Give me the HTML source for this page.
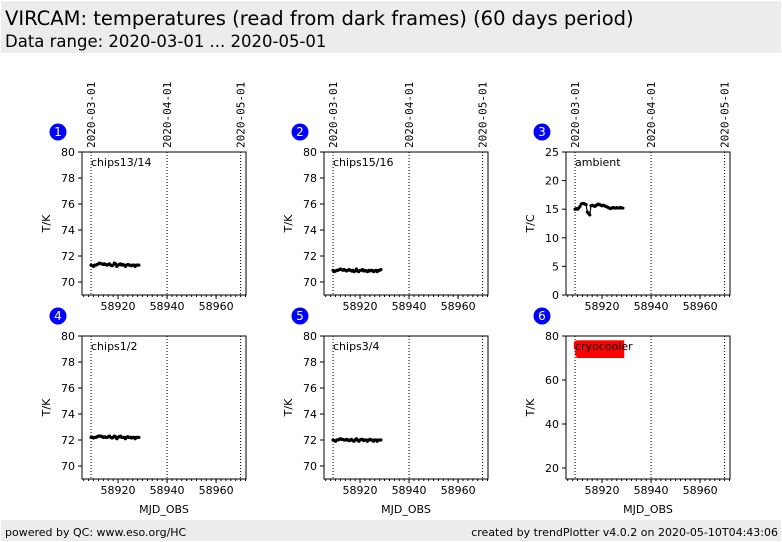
<!DOCTYPE html>
<html><head><meta charset="utf-8">
<style>
body{margin:0;width:782px;height:542px;background:#fff;font-family:"DejaVu Sans","Liberation Sans",sans-serif;overflow:hidden;position:relative}
.hdr{position:absolute;left:1px;top:1px;width:780px;height:52px;background:#ececec}
.t1{position:absolute;left:4px;top:6px;font-size:19.5px;color:#000}
.t2{position:absolute;left:4px;top:31px;font-size:16.5px;color:#000}
.ftr{position:absolute;left:1px;top:520px;width:780px;height:21px;background:#ececec;font-size:11px}
.fl{position:absolute;left:4px;top:6px}.fr{position:absolute;right:3px;top:6px}
svg{position:absolute;left:0;top:0;font-family:"DejaVu Sans","Liberation Sans",sans-serif}
</style></head><body>
<div class="hdr">
<div class="t1">VIRCAM: temperatures (read from dark frames) (60 days period)</div>
<div class="t2">Data range: 2020-03-01 ... 2020-05-01</div>
</div>
<svg id="c" width="782" height="542"></svg>
<div class="ftr">
<span class="fl">powered by QC: www.eso.org/HC</span>
<span class="fr">created by trendPlotter v4.0.2 on 2020-05-10T04:43:06</span>
</div>
<script>
const mjd=[58909,58909.5,58910,58910.5,58911,58911.5,58912,58912.5,58913,58913.5,58914,58914.5,58915,58915.5,58916,58916.5,58917,58917.5,58918,58918.5,58919,58919.5,58920,58920.5,58921,58921.5,58922,58922.5,58923,58923.5,58924,58924.5,58925,58925.5,58926,58926.5,58927,58927.5,58928,58928.5];
const chips1314=[71.3,71.25,71.2,71.3,71.3,71.35,71.4,71.45,71.4,71.4,71.35,71.4,71.35,71.3,71.35,71.4,71.3,71.25,71.3,71.45,71.4,71.2,71.3,71.35,71.4,71.3,71.35,71.3,71.2,71.3,71.35,71.3,71.3,71.25,71.3,71.3,71.2,71.3,71.3,71.3];
const chips1516=[70.9,70.8,70.85,70.9,70.9,70.95,71.0,70.95,70.9,70.95,70.9,70.85,70.9,70.95,70.9,70.85,70.9,70.8,70.85,71.0,70.85,70.8,70.9,70.9,70.95,70.85,70.9,70.85,70.8,70.9,70.85,70.9,70.9,70.8,70.85,70.9,70.8,70.9,70.9,70.95];
const ambient=[15.0,15.1,15.0,15.2,15.5,15.9,16.0,16.0,15.9,15.8,14.5,14.3,14.0,15.6,15.7,15.6,15.5,15.6,15.8,15.9,15.8,15.7,15.6,15.7,15.6,15.5,15.4,15.3,15.2,15.1,15.2,15.3,15.2,15.2,15.3,15.2,15.2,15.3,15.2,15.2];
const chips12=[72.2,72.2,72.15,72.2,72.2,72.25,72.3,72.3,72.3,72.25,72.2,72.25,72.2,72.2,72.25,72.3,72.2,72.15,72.2,72.3,72.25,72.1,72.2,72.25,72.3,72.2,72.2,72.2,72.1,72.2,72.25,72.2,72.2,72.15,72.2,72.2,72.1,72.2,72.2,72.2];
const chips34=[72.0,71.95,71.9,72.0,72.0,72.05,72.1,72.05,72.05,72.0,72.0,72.05,72.0,71.95,72.0,72.05,71.95,71.9,72.0,72.1,72.0,71.9,72.0,72.05,72.05,71.95,72.0,72.0,71.9,72.0,72.05,72.0,72.0,71.9,72.0,72.0,71.9,72.0,72.0,72.0];
const cryoHigh=[77.5,77.8,78,78,78,78,78,78,78,78,78,78,78,78,78,78,78,78,78,78,78,78,78,78,78,78,78,78,78,78,78,78,78,78,78,78,78,78,78,78];
const cryoLow=[74,71,70,70,70,70,70,70,70,70,70,70,70,70,70,70,70,70,70,70,70,70,70,70,70,70,70,70,70,70,70,70,70,70,70,70,70,70,70,70];
const xTicks=[58920,58940,58960];
const dateLbl=["2020-03-01","2020-04-01","2020-05-01"];
const dateMjd=[58909,58940,58970];
const panels=[
 {n:1,x:82,y:152,lab:"chips13/14",yl:"T/K",lo:69,hi:80,yt:[70,72,74,76,78,80],d:chips1314,top:true},
 {n:2,x:324,y:152,lab:"chips15/16",yl:"T/K",lo:69,hi:80,yt:[70,72,74,76,78,80],d:chips1516,top:true},
 {n:3,x:566,y:152,lab:"ambient",yl:"T/C",lo:0,hi:25,yt:[0,5,10,15,20,25],d:ambient,top:true},
 {n:4,x:82,y:336,lab:"chips1/2",yl:"T/K",lo:69,hi:80,yt:[70,72,74,76,78,80],d:chips12},
 {n:5,x:324,y:336,lab:"chips3/4",yl:"T/K",lo:69,hi:80,yt:[70,72,74,76,78,80],d:chips34},
 {n:6,x:566,y:336,lab:"cryocooler",yl:"T/K",lo:15,hi:80,yt:[20,40,60,80],cryo:true},
];
const W=164,H=143,X0=58905.3,X1=58972.2;
const svg=document.getElementById('c');
const NS="http://www.w3.org/2000/svg";
function mk(t,a,p){const e=document.createElementNS(NS,t);for(const k in a)e.setAttribute(k,a[k]);(p||svg).appendChild(e);return e;}
panels.forEach(p=>{
 const g=mk('g',{});
 
 
 const sx=v=>p.x+(v-X0)/(X1-X0)*W, sy=v=>p.y+H-(v-p.lo)/(p.hi-p.lo)*H;
 dateMjd.forEach((m,i)=>{
  const l=mk('line',{x1:sx(m),x2:sx(m),y1:p.y,y2:p.y+H,stroke:'#000','stroke-width':1,'stroke-dasharray':'1,2'},g);
  
  if(p.top){
   const t=mk('text',{x:0,y:0,transform:`translate(${sx(m)+4},${p.y-4}) rotate(-90)`,'font-size':11,'font-family':'DejaVu Sans Mono,Liberation Mono,monospace'},g);
   t.textContent=dateLbl[i];
   
  }
 });
 for(let m=58906;m<=58972;m+=2){mk('line',{x1:sx(m),x2:sx(m),y1:p.y+H,y2:p.y+H+2,stroke:'#000'},g);}
 xTicks.forEach(v=>{
  mk('line',{x1:sx(v),x2:sx(v),y1:p.y+H,y2:p.y+H+4,stroke:'#000'},g);
  const t=mk('text',{x:sx(v),y:p.y+H+15,'text-anchor':'middle','font-size':11},g);t.textContent=v;
  
 });
 p.yt.forEach(v=>{
  mk('line',{x1:p.x-4,x2:p.x,y1:sy(v),y2:sy(v),stroke:'#000'},g);
  const t=mk('text',{x:p.x-7,y:sy(v)+4,'text-anchor':'end','font-size':11},g);t.textContent=v;
  
 });
 const yl=mk('text',{transform:`translate(${p.x-32},${p.y+H/2}) rotate(-90)`,'text-anchor':'middle','font-size':11},g);yl.textContent=p.yl;
 
 if(p.n>=4){const xl=mk('text',{x:p.x+W/2,y:p.y+H+34,'text-anchor':'middle','font-size':11},g);xl.textContent='MJD_OBS';
  }
 if(p.cryo){
  mjd.forEach((m,i)=>{
   const r=mk('rect',{x:sx(m)-1.2,y:sy(cryoHigh[i]),width:2.6,height:sy(cryoLow[i])-sy(cryoHigh[i]),fill:'#ff0000'},g);
   
  });
 } else {
  mjd.forEach((m,i)=>{
   const c=mk('circle',{cx:sx(m),cy:sy(p.d[i]),r:1.6,fill:'#000'},g);
   
   if(i>0)mk('line',{x1:sx(mjd[i-1]),y1:sy(p.d[i-1]),x2:sx(m),y2:sy(p.d[i]),stroke:'#000','stroke-width':1.2},g);
  });
 }
 const lb=mk('text',{x:p.x+9,y:p.y+14,'font-size':11},g);lb.textContent=p.lab;
 
 mk('rect',{x:p.x,y:p.y,width:W,height:H,fill:'none',stroke:'#000','stroke-width':1},g);
 const b=mk('circle',{cx:p.x-24,cy:p.y-20,r:8.5,fill:'#0000ff'},g);
 
 const bt=mk('text',{x:p.x-24,y:p.y-16,'text-anchor':'middle','font-size':12,fill:'#fff'},g);bt.textContent=p.n;
});
</script>
</body></html>
